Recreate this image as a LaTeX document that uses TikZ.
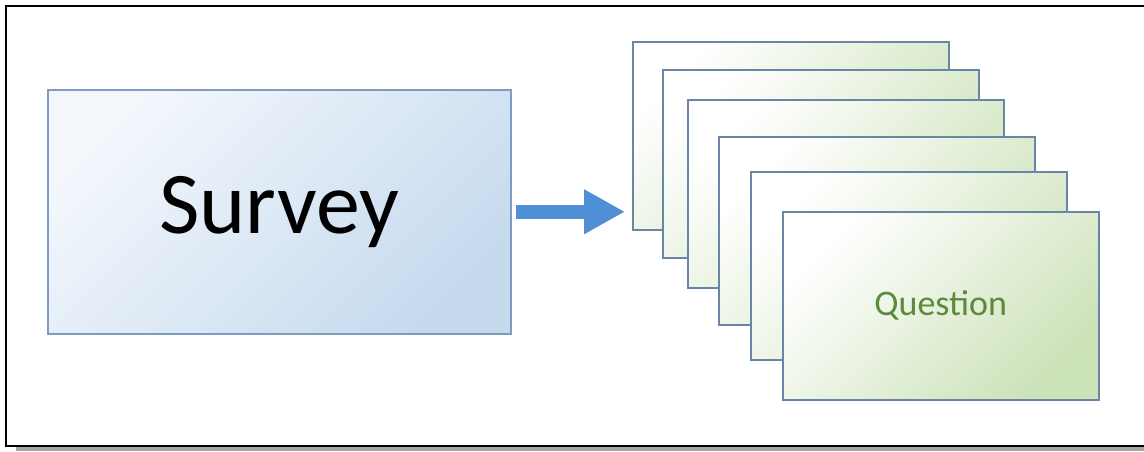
\documentclass[tikz,border=0pt]{standalone}
\usepackage{fontspec}
\setmainfont{Carlito}
\usetikzlibrary{arrows.meta, positioning}
\definecolor{cblue}{HTML}{4E8FD5}
\definecolor{sline}{HTML}{7E9CC0}
\definecolor{qline}{HTML}{6A86A6}
\definecolor{lightblue}{HTML}{F3F7FC}
\definecolor{midblue}{HTML}{C6DAEE}
\definecolor{lightgreen}{HTML}{CCE2B8}
\definecolor{dgreen}{HTML}{5B8A3A}
\begin{document}
\begin{tikzpicture}[x=1pt, y=-1pt,
  survbox/.style={draw=sline, line width=1.5pt, top color=lightblue, bottom color=midblue, shading angle=45, minimum width=463pt, minimum height=244pt, inner sep=0pt, anchor=north west},
  card/.style={draw=qline, line width=1.5pt, top color=white, bottom color=lightgreen, shading angle=45, minimum width=316pt, minimum height=188pt, inner sep=0pt, anchor=north west},
  arr/.style={-{Triangle[length=41pt, width=42pt]}, line width=14pt, cblue}
]
  \useasboundingbox (0,0) rectangle (1144,451);

  % Frame
  \fill[gray!70] (16,446) rectangle (1160,451);
  \draw[line width=2pt, fill=white] (6,6) rectangle (1160,446);

  % Survey
  \node[survbox, font=\fontsize{88}{88}\selectfont] (survey) at (47,89) {Survey};

  % Stack of questions
  \node[card] (q1) at (632,41) {};
  \node[card] (q2) at (662,69) {};
  \node[card] (q3) at (687,99) {};
  \node[card] (q4) at (718,136) {};
  \node[card] (q5) at (750,171) {};
  \node[card, text=dgreen, font=\fontsize{36}{36}\selectfont] (q6) at (782,211) {Question};

  % Arrow
  \draw[arr, shorten <=4pt, shorten >=7pt] (survey.east) -- (survey.east -| q1.west);

\end{tikzpicture}
\end{document}
